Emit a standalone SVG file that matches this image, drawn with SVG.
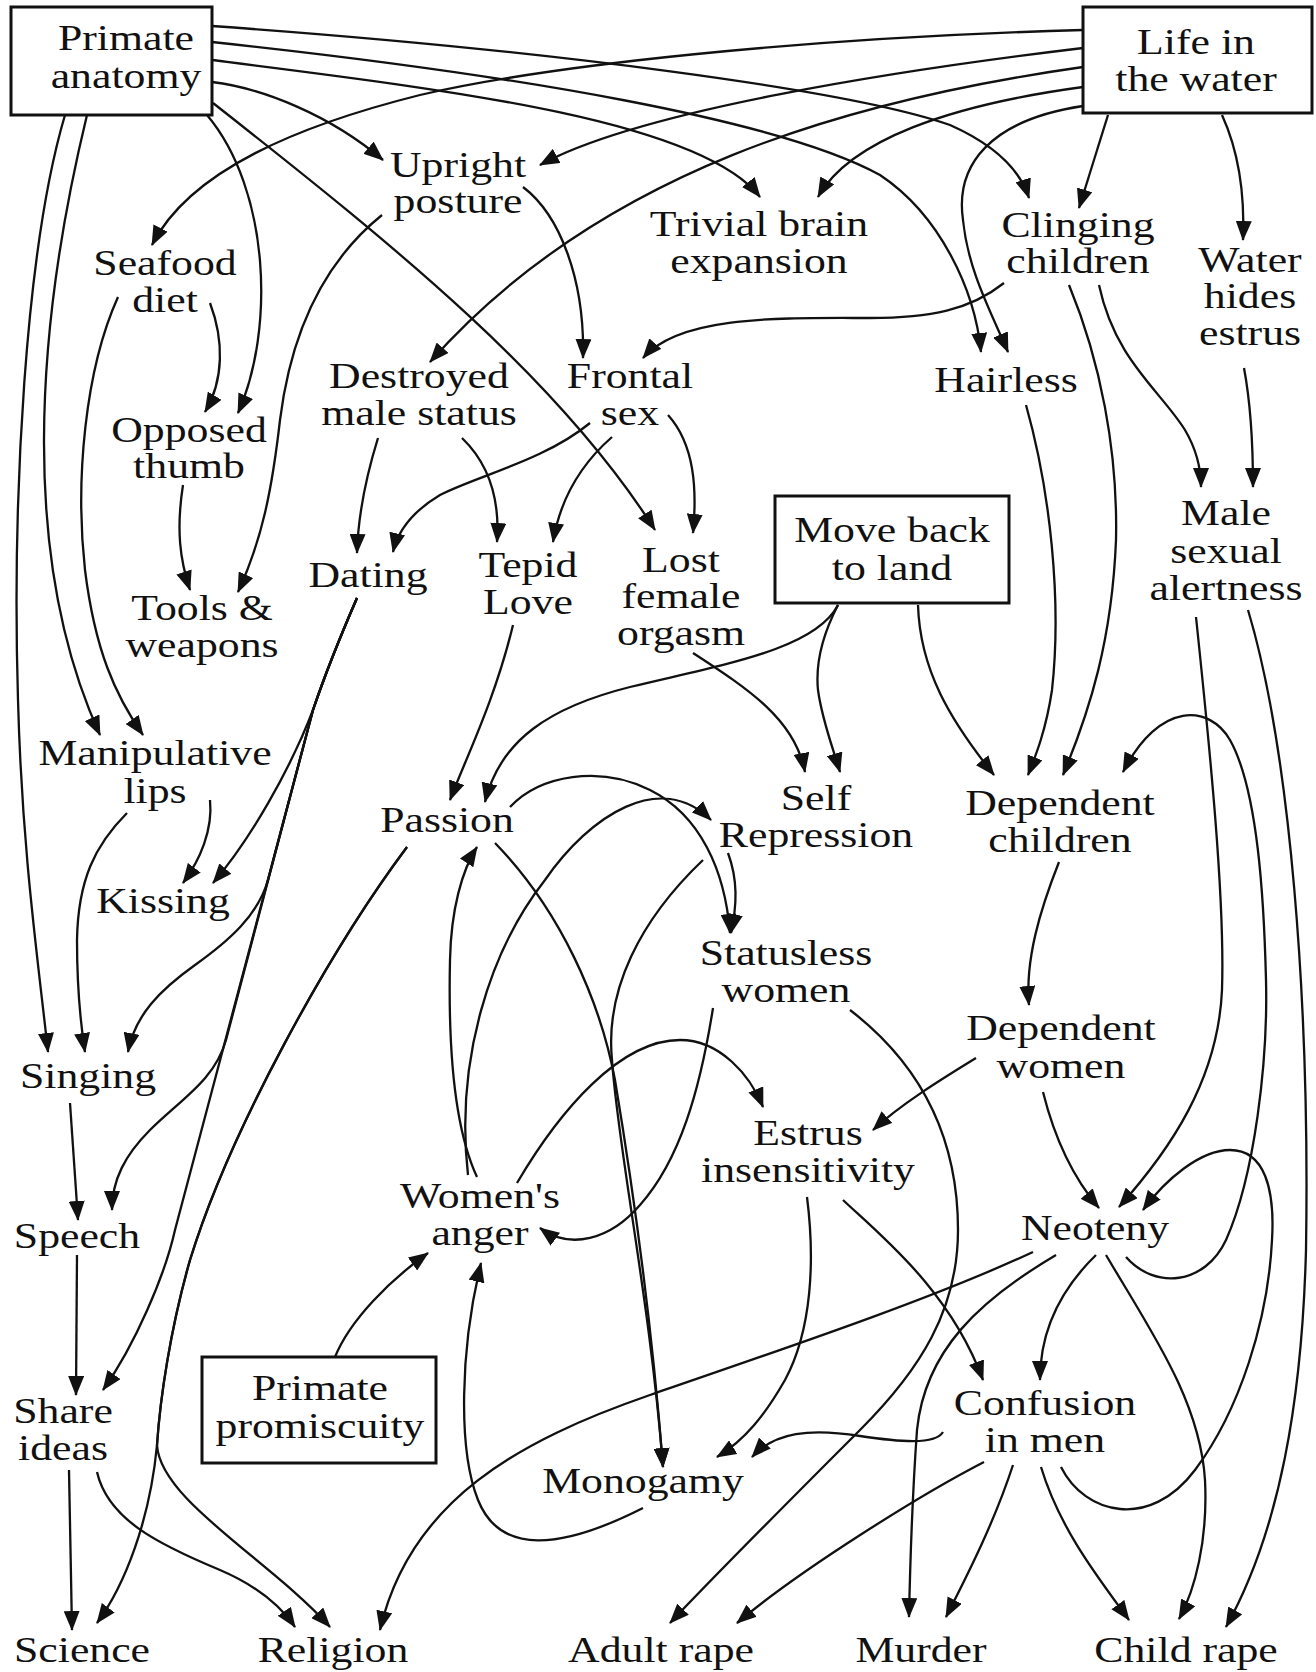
<svg xmlns="http://www.w3.org/2000/svg" width="1316" height="1672" viewBox="0 0 1316 1672">
<style>
.t{font-family:"Liberation Serif","Times New Roman",serif;font-size:35px;text-anchor:middle;fill:#111}
.e{fill:none;stroke:#111;stroke-width:2.3;marker-end:url(#ah)}
.box{fill:#fff;stroke:#111;stroke-width:3}
</style>
<defs>
<marker id="ah" viewBox="0 0 20 16" refX="19" refY="8" markerWidth="20" markerHeight="16" orient="auto" markerUnits="userSpaceOnUse"><path d="M0,0 L20,8 L0,16 Z" fill="#111"/></marker>
</defs>
<rect width="1316" height="1672" fill="#fff"/>
<g id="connectors">
<path class="e" d="M212,82 C 262,88 330,115 383,160"/>
<path class="e" d="M212,60 C 450,90 700,120 760,197"/>
<path class="e" d="M212,42 C 520,75 780,120 880,175 C 940,215 975,290 981,352"/>
<path class="e" d="M212,26 C 550,50 850,90 950,125 C 995,145 1020,170 1029,198"/>
<path class="e" d="M207,115 C 270,190 275,330 238,413"/>
<path class="e" d="M213,103 C 400,250 560,380 655,530"/>
<path class="e" d="M65,115 C 25,250 12,500 18,700 C 22,850 38,960 48,1052"/>
<path class="e" d="M87,115 C 35,330 20,560 100,735"/>
<path class="e" d="M1083,30 C 800,38 550,65 420,95 C 300,125 190,170 152,245"/>
<path class="e" d="M1083,48 C 900,70 640,110 540,165"/>
<path class="e" d="M1083,67 C 850,100 600,170 430,362"/>
<path class="e" d="M1083,87 C 950,105 850,140 818,197"/>
<path class="e" d="M1083,106 C 990,120 955,165 963,220 C 968,270 990,310 1008,352"/>
<path class="e" d="M1108,115 L 1079,208"/>
<path class="e" d="M1222,115 C 1238,150 1245,190 1243,240"/>
<path class="e" d="M523,187 C 560,215 585,280 583,358"/>
<path class="e" d="M382,215 C 320,265 290,340 280,420 C 272,490 262,540 238,592"/>
<path class="e" d="M210,303 C 224,340 224,380 205,412"/>
<path class="e" d="M118,297 C 85,370 75,480 85,570 C 95,650 115,695 143,735"/>
<path class="e" d="M183,485 C 176,530 180,560 190,590"/>
<path class="e" d="M378,438 C 365,480 358,520 357,553"/>
<path class="e" d="M462,438 C 490,465 500,500 497,542"/>
<path class="e" d="M590,423 C 545,460 480,475 440,495 C 415,510 398,530 393,552"/>
<path class="e" d="M612,437 C 580,465 560,500 553,542"/>
<path class="e" d="M668,415 C 695,445 697,490 693,533"/>
<path class="e" d="M1004,283 C 970,310 930,318 870,318 C 780,318 680,315 643,358"/>
<path class="e" d="M1069,285 C 1100,360 1118,450 1116,540 C 1112,640 1090,710 1063,775"/>
<path class="e" d="M1099,285 C 1115,360 1160,390 1185,430 C 1198,452 1201,470 1201,487"/>
<path class="e" d="M1026,405 C 1050,490 1062,600 1052,690 C 1046,730 1036,755 1028,775"/>
<path class="e" d="M1244,368 C 1250,400 1253,440 1253,487"/>
<path class="e" d="M838,605 C 815,650 720,665 630,687 C 550,707 500,740 485,802"/>
<path class="e" d="M838,605 C 825,630 815,660 818,690 C 822,720 832,745 840,772"/>
<path class="e" d="M918,605 C 920,670 950,720 994,775"/>
<path class="e" d="M693,653 C 750,690 795,720 805,772"/>
<path class="e" d="M513,625 C 495,700 465,760 450,800"/>
<path class="e" d="M1196,617 C 1210,750 1225,900 1222,990 C 1218,1080 1170,1150 1119,1207"/>
<path class="e" d="M1248,610 C 1290,750 1310,1000 1306,1250 C 1302,1400 1280,1530 1226,1627"/>
<path class="e" d="M1059,862 C 1040,910 1025,960 1029,1005"/>
<path class="e" d="M1126,1257 C 1155,1290 1205,1285 1226,1240 C 1255,1175 1268,1060 1266,980 C 1264,900 1258,790 1230,740 C 1210,705 1160,700 1123,772"/>
<path class="e" d="M976,1058 C 940,1080 900,1105 873,1130"/>
<path class="e" d="M1043,1092 C 1055,1140 1075,1180 1099,1208"/>
<path class="e" d="M210,800 C 213,830 200,860 183,883"/>
<path class="e" d="M127,813 C 95,845 78,880 77,940 C 77,990 80,1020 85,1052"/>
<path class="e" d="M357,598 Q 330,660 313,710 C 290,770 250,840 213,883"/>
<path class="e" d="M357,598 Q 330,660 313,710 L 268,880 C 258,915 230,940 195,965 C 160,990 135,1015 128,1052"/>
<path class="e" d="M357,598 Q 330,660 313,710 L 226,1040 C 215,1080 180,1100 150,1130 C 125,1155 112,1180 112,1210"/>
<path class="e" d="M357,598 Q 330,660 313,710 L 175,1230 C 165,1275 135,1345 103,1390"/>
<path class="e" d="M70,1103 L 78,1220"/>
<path class="e" d="M77,1255 L 76,1395"/>
<path class="e" d="M69,1470 L 72,1630"/>
<path class="e" d="M97,1472 C 108,1520 160,1545 220,1570 C 255,1585 280,1605 295,1627"/>
<path class="e" d="M407,847 C 330,950 230,1130 190,1260 C 170,1330 160,1400 157,1445 C 150,1520 125,1585 97,1623"/>
<path class="e" d="M407,847 C 330,950 230,1130 190,1260 C 170,1330 160,1400 157,1445 C 160,1500 270,1560 330,1627"/>
<path class="e" d="M510,807 C 540,775 600,765 650,790 C 700,815 725,870 730,933"/>
<path class="e" d="M728,853 C 738,880 737,905 731,933"/>
<path class="e" d="M468,1175 C 455,1060 490,950 545,880 C 590,815 660,770 711,820"/>
<path class="e" d="M477,1177 C 455,1130 448,1050 450,960 C 451,910 462,870 477,847"/>
<path class="e" d="M495,843 C 560,910 600,1000 615,1080 C 630,1170 650,1300 663,1467"/>
<path class="e" d="M703,860 C 640,920 605,990 612,1060 C 618,1150 650,1300 663,1467"/>
<path class="e" d="M713,1008 C 700,1090 680,1160 640,1205 C 610,1240 570,1250 540,1228"/>
<path class="e" d="M517,1183 C 560,1110 620,1040 680,1040 C 720,1040 750,1075 763,1107"/>
<path class="e" d="M850,1010 C 915,1060 958,1130 958,1230 C 958,1310 920,1370 860,1430 C 790,1500 720,1570 670,1623"/>
<path class="e" d="M807,1197 C 815,1260 812,1330 785,1380 C 765,1415 745,1440 717,1457"/>
<path class="e" d="M843,1200 C 880,1235 950,1290 983,1380"/>
<path class="e" d="M335,1357 C 350,1320 390,1280 428,1253"/>
<path class="e" d="M643,1508 C 560,1550 500,1555 478,1500 C 458,1450 460,1350 481,1263"/>
<path class="e" d="M1033,1252 C 930,1300 780,1350 650,1395 C 520,1440 410,1500 380,1630"/>
<path class="e" d="M1056,1255 C 980,1300 925,1350 917,1430 C 912,1500 910,1570 909,1617"/>
<path class="e" d="M1096,1255 C 1060,1290 1040,1330 1040,1380"/>
<path class="e" d="M1106,1255 C 1150,1330 1200,1400 1205,1480 C 1208,1540 1195,1590 1179,1619"/>
<path class="e" d="M943,1432 C 935,1445 900,1442 860,1436 C 810,1428 775,1432 752,1457"/>
<path class="e" d="M984,1462 C 920,1495 800,1570 737,1623"/>
<path class="e" d="M1013,1465 C 995,1520 970,1570 946,1617"/>
<path class="e" d="M1041,1467 C 1060,1530 1100,1580 1129,1620"/>
<path class="e" d="M1061,1467 C 1085,1515 1150,1530 1195,1470 C 1240,1410 1268,1320 1272,1240 C 1275,1190 1265,1150 1230,1150 C 1200,1150 1165,1180 1143,1210"/>
</g>
<g id="n-primate-anatomy"><rect class="box" x="11" y="7" width="201" height="108"/><text class="t" transform="translate(126,0) scale(1.25,1)"><tspan x="0" y="50">Primate</tspan><tspan x="0" y="88">anatomy</tspan></text></g>
<g id="n-life-water"><rect class="box" x="1083" y="7" width="229" height="106"/><text class="t" transform="translate(1196,0) scale(1.25,1)"><tspan x="0" y="54">Life in</tspan><tspan x="0" y="91">the water</tspan></text></g>
<g id="n-upright"><text class="t" transform="translate(458,0) scale(1.25,1)"><tspan x="0" y="177">Upright</tspan><tspan x="0" y="213">posture</tspan></text></g>
<g id="n-trivial"><text class="t" transform="translate(759,0) scale(1.25,1)"><tspan x="0" y="236">Trivial brain</tspan><tspan x="0" y="273">expansion</tspan></text></g>
<g id="n-clinging"><text class="t" transform="translate(1078,0) scale(1.25,1)"><tspan x="0" y="237">Clinging</tspan><tspan x="0" y="273">children</tspan></text></g>
<g id="n-water-hides"><text class="t" transform="translate(1250,0) scale(1.25,1)"><tspan x="0" y="272">Water</tspan><tspan x="0" y="308">hides</tspan><tspan x="0" y="345">estrus</tspan></text></g>
<g id="n-seafood"><text class="t" transform="translate(165,0) scale(1.25,1)"><tspan x="0" y="275">Seafood</tspan><tspan x="0" y="312">diet</tspan></text></g>
<g id="n-destroyed"><text class="t" transform="translate(419,0) scale(1.25,1)"><tspan x="0" y="388">Destroyed</tspan><tspan x="0" y="425">male status</tspan></text></g>
<g id="n-frontal"><text class="t" transform="translate(630,0) scale(1.25,1)"><tspan x="0" y="388">Frontal</tspan><tspan x="0" y="425">sex</tspan></text></g>
<g id="n-hairless"><text class="t" transform="translate(1006,0) scale(1.25,1)"><tspan x="0" y="392">Hairless</tspan></text></g>
<g id="n-opposed"><text class="t" transform="translate(189,0) scale(1.25,1)"><tspan x="0" y="442">Opposed</tspan><tspan x="0" y="478">thumb</tspan></text></g>
<g id="n-tools"><text class="t" transform="translate(202,0) scale(1.25,1)"><tspan x="0" y="620">Tools &amp;</tspan><tspan x="0" y="657">weapons</tspan></text></g>
<g id="n-dating"><text class="t" transform="translate(368,0) scale(1.25,1)"><tspan x="0" y="587">Dating</tspan></text></g>
<g id="n-tepid"><text class="t" transform="translate(528,0) scale(1.25,1)"><tspan x="0" y="577">Tepid</tspan><tspan x="0" y="614">Love</tspan></text></g>
<g id="n-lost"><text class="t" transform="translate(681,0) scale(1.25,1)"><tspan x="0" y="572">Lost</tspan><tspan x="0" y="608">female</tspan><tspan x="0" y="645">orgasm</tspan></text></g>
<g id="n-move"><rect class="box" x="775" y="496" width="234" height="107"/><text class="t" transform="translate(892,0) scale(1.25,1)"><tspan x="0" y="542">Move back</tspan><tspan x="0" y="580">to land</tspan></text></g>
<g id="n-msa"><text class="t" transform="translate(1226,0) scale(1.25,1)"><tspan x="0" y="525">Male</tspan><tspan x="0" y="563">sexual</tspan><tspan x="0" y="600">alertness</tspan></text></g>
<g id="n-manip"><text class="t" transform="translate(155,0) scale(1.25,1)"><tspan x="0" y="765">Manipulative</tspan><tspan x="0" y="803">lips</tspan></text></g>
<g id="n-passion"><text class="t" transform="translate(447,0) scale(1.25,1)"><tspan x="0" y="832">Passion</tspan></text></g>
<g id="n-selfrep"><text class="t" transform="translate(816,0) scale(1.25,1)"><tspan x="0" y="810">Self</tspan><tspan x="0" y="847">Repression</tspan></text></g>
<g id="n-depchildren"><text class="t" transform="translate(1060,0) scale(1.25,1)"><tspan x="0" y="815">Dependent</tspan><tspan x="0" y="852">children</tspan></text></g>
<g id="n-kissing"><text class="t" transform="translate(163,0) scale(1.25,1)"><tspan x="0" y="913">Kissing</tspan></text></g>
<g id="n-statusless"><text class="t" transform="translate(786,0) scale(1.25,1)"><tspan x="0" y="965">Statusless</tspan><tspan x="0" y="1002">women</tspan></text></g>
<g id="n-depwomen"><text class="t" transform="translate(1061,0) scale(1.25,1)"><tspan x="0" y="1040">Dependent</tspan><tspan x="0" y="1078">women</tspan></text></g>
<g id="n-singing"><text class="t" transform="translate(88,0) scale(1.25,1)"><tspan x="0" y="1088">Singing</tspan></text></g>
<g id="n-estrus"><text class="t" transform="translate(808,0) scale(1.25,1)"><tspan x="0" y="1145">Estrus</tspan><tspan x="0" y="1182">insensitivity</tspan></text></g>
<g id="n-wanger"><text class="t" transform="translate(480,0) scale(1.25,1)"><tspan x="0" y="1208">Women's</tspan><tspan x="0" y="1245">anger</tspan></text></g>
<g id="n-speech"><text class="t" transform="translate(77,0) scale(1.25,1)"><tspan x="0" y="1248">Speech</tspan></text></g>
<g id="n-neoteny"><text class="t" transform="translate(1095,0) scale(1.25,1)"><tspan x="0" y="1240">Neoteny</tspan></text></g>
<g id="n-share"><text class="t" transform="translate(63,0) scale(1.25,1)"><tspan x="0" y="1423">Share</tspan><tspan x="0" y="1460">ideas</tspan></text></g>
<g id="n-promiscuity"><rect class="box" x="202" y="1357" width="234" height="106"/><text class="t" transform="translate(320,0) scale(1.25,1)"><tspan x="0" y="1400">Primate</tspan><tspan x="0" y="1438">promiscuity</tspan></text></g>
<g id="n-confusion"><text class="t" transform="translate(1045,0) scale(1.25,1)"><tspan x="0" y="1415">Confusion</tspan><tspan x="0" y="1452">in men</tspan></text></g>
<g id="n-monogamy"><text class="t" transform="translate(643,0) scale(1.25,1)"><tspan x="0" y="1493">Monogamy</tspan></text></g>
<g id="n-science"><text class="t" transform="translate(82,0) scale(1.25,1)"><tspan x="0" y="1662">Science</tspan></text></g>
<g id="n-religion"><text class="t" transform="translate(333,0) scale(1.25,1)"><tspan x="0" y="1662">Religion</tspan></text></g>
<g id="n-adultrape"><text class="t" transform="translate(661,0) scale(1.25,1)"><tspan x="0" y="1662">Adult rape</tspan></text></g>
<g id="n-murder"><text class="t" transform="translate(921,0) scale(1.25,1)"><tspan x="0" y="1662">Murder</tspan></text></g>
<g id="n-childrape"><text class="t" transform="translate(1186,0) scale(1.25,1)"><tspan x="0" y="1662">Child rape</tspan></text></g>
</svg>
